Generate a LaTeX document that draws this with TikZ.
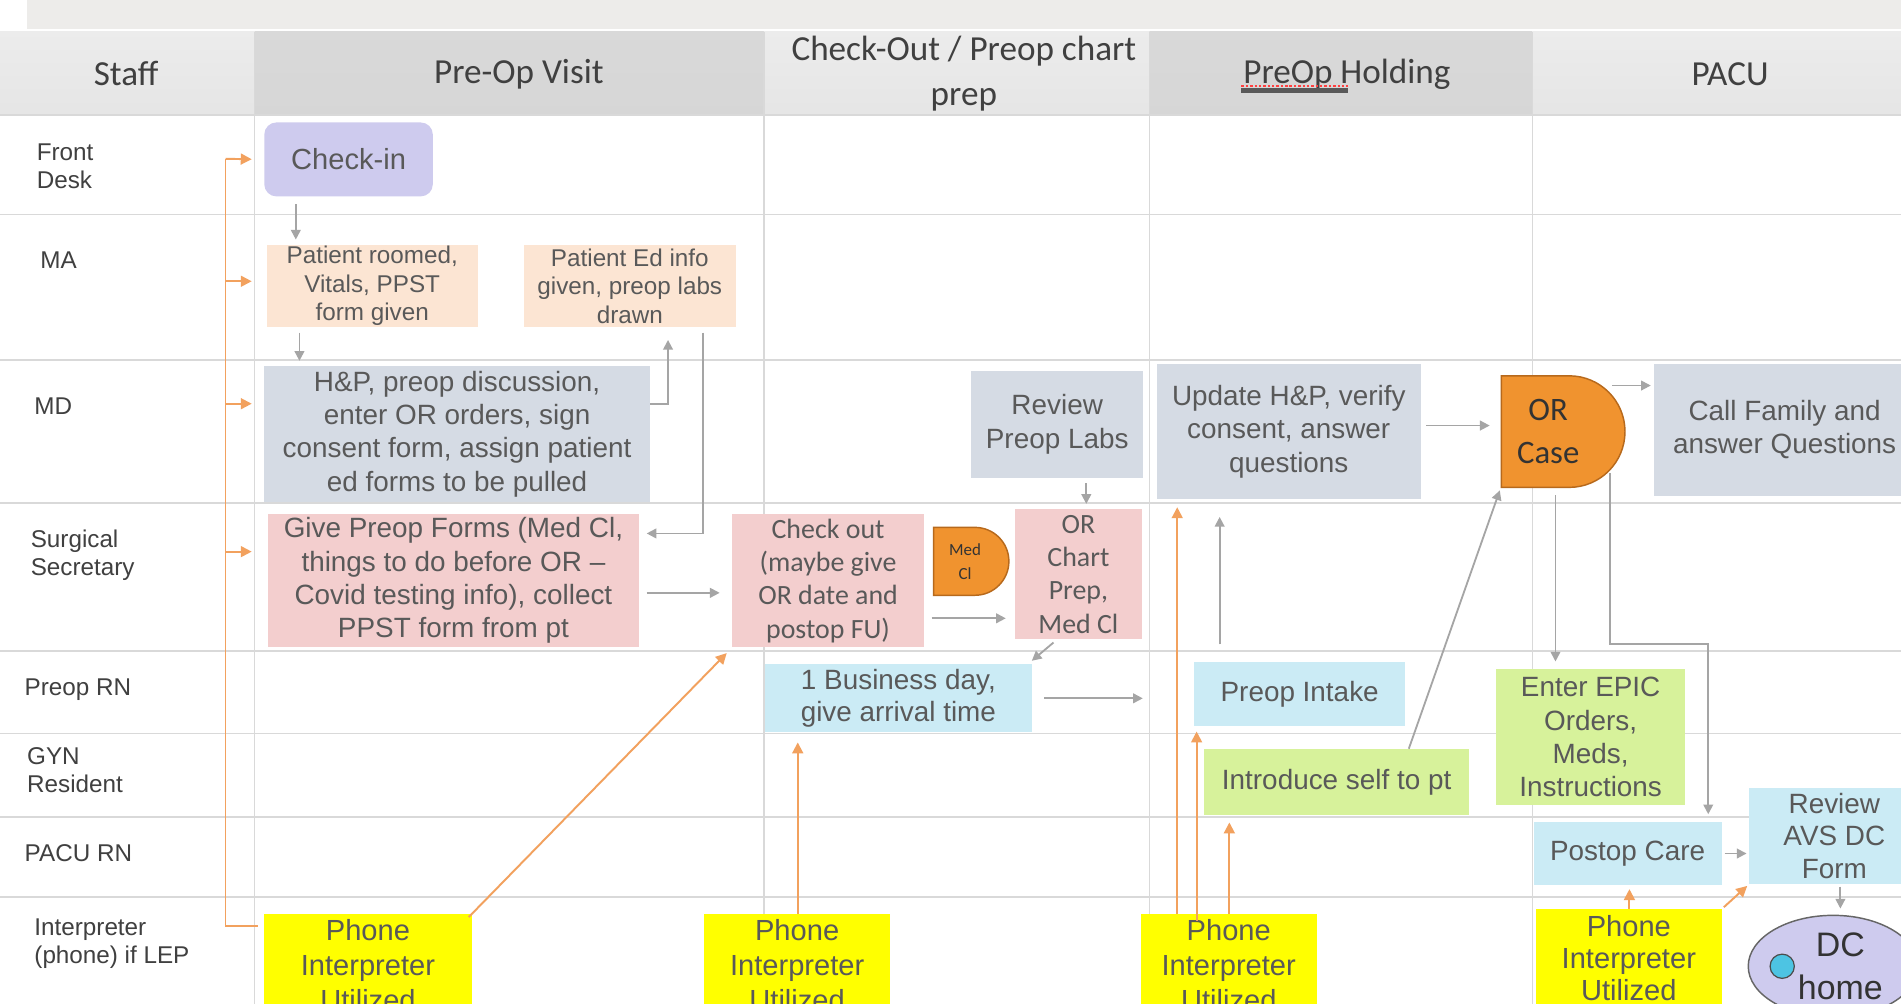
\documentclass[tikz,border=0pt]{standalone}
\usepackage{fontspec}
\setmainfont{Liberation Sans}
\newfontfamily\calfont{Carlito}
\usetikzlibrary{arrows.meta,shapes.misc,shapes.geometric}

\definecolor{bandc}{HTML}{EDECEA}
\definecolor{gridc}{HTML}{D9D9D9}
\definecolor{hdrtxt}{HTML}{404040}
\definecolor{lbltxt}{HTML}{404040}
\definecolor{boxtxt}{HTML}{595959}
\definecolor{lavc}{HTML}{CECBEE}
\definecolor{peachc}{HTML}{FCE5D3}
\definecolor{slatec}{HTML}{D5DBE4}
\definecolor{pinkc}{HTML}{F3CECE}
\definecolor{skyc}{HTML}{CBEBF5}
\definecolor{limec}{HTML}{D7F29B}
\definecolor{yelc}{HTML}{FFFF00}
\definecolor{orfill}{HTML}{F0932F}
\definecolor{ordraw}{HTML}{B7691C}
\definecolor{olinec}{HTML}{F2A15E}
\definecolor{glinec}{HTML}{A5A5A5}
\definecolor{dotc}{HTML}{4DC4E3}

% box from corner (x1,y1) to (x2,y2): style, name, x1, y1, x2, y2, text
\newcommand\mybox[7]{\node[#1, minimum width={(#5-#3)*0.5pt}, minimum height={(#6-#4)*0.5pt}] (#2) at ({(#3+#5)/2},{(#4+#6)/2}) {#7};}

\begin{document}
\begin{tikzpicture}[x=0.5pt,y=-0.5pt,
  box/.style={rectangle, inner sep=0pt, align=center, text=boxtxt},
  body/.style={font=\fontsize{11.5}{13.75}\selectfont},
  smallbody/.style={font=\fontsize{10}{11.75}\selectfont},
  calbody/.style={font=\calfont\fontsize{11.5}{13.75}\selectfont},
  phone/.style={box, fill=yelc, font=\fontsize{12}{14.5}\selectfont},
  hdr/.style={font=\calfont\fontsize{14.5}{18.5}\selectfont, text=hdrtxt, align=center, inner sep=0pt},
  lbl/.style={font=\fontsize{10}{11.5}\selectfont, text=lbltxt, align=left, anchor=west, inner sep=0pt},
  dshape/.style={rounded rectangle, rounded rectangle left arc=none, fill=orfill, draw=ordraw, line width=0.6pt, inner sep=0pt, align=center, text=black!80},
  grid/.style={draw=gridc, line width=0.6pt},
  garrow/.style={draw=glinec, line width=0.75pt, -{Triangle[length=4pt,width=4pt]}},
  gline/.style={draw=glinec, line width=0.75pt},
  oarrow/.style={draw=olinec, line width=0.8pt, -{Triangle[length=4.5pt,width=4.5pt]}},
  oline/.style={draw=olinec, line width=0.8pt},
  lighthead/.style={top color=gray!15, middle color=gray!4, bottom color=gray!20},
  darkhead/.style={top color=gray!30, middle color=gray!6, bottom color=gray!32},
]
\useasboundingbox (0,0) rectangle (1568,828);
\clip (0,0) rectangle (1568,828);
\fill[white] (0,0) rectangle (1568,828);

% top band
\fill[bandc] (22,0) rectangle (1568,24);

% header cells
\shade[lighthead] (0,26) rectangle (210,95);
\shade[darkhead] (210,26) rectangle (630,95);
\shade[lighthead] (630,26) rectangle (948,95);
\shade[darkhead] (948,26) rectangle (1264,95);
\shade[lighthead] (1264,26) rectangle (1568,95);
\foreach \x in {210,630,948,1264} \draw[grid] (\x,26) -- (\x,95);

\node[hdr] (hstaff) at (104,61) {Staff};
\node[hdr] (hpre) at (428,61) {Pre-Op Visit};
\node[hdr] (hcheck) at (795,61) {Check-Out / Preop chart\\prep};
\node[hdr] (hhold) at (1111,61) {PreOp Holding};
\node[hdr] (hpacu) at (1427,61) {PACU};
\draw[red!75, line width=0.5pt, dash pattern=on 1pt off 0.8pt] (1024,71) -- (1112,71);
\draw[gray!70!black, line width=2pt] (1024,75) -- (1112,75);

% swimlane grid
\foreach \y in {95,177,297,415,537,605,674,740} \draw[grid] (0,\y) -- (1568,\y);
\foreach \x in {210,630,948,1264} \draw[grid] (\x,95) -- (\x,828);

% staff labels
\node[lbl] (lfront) at (30,137) {Front\\Desk};
\node[lbl] (lma) at (33,215) {MA};
\node[lbl] (lmd) at (28,335) {MD};
\node[lbl] (lsec) at (25,458) {Surgical\\Secretary};
\node[lbl] (lprn) at (20,569) {Preop RN};
\node[lbl] (lgyn) at (22,635) {GYN\\Resident};
\node[lbl] (lpacu) at (20,704) {PACU RN};
\node[lbl] (lint) at (28,778) {Interpreter\\(phone) if LEP};

% process boxes
\mybox{box, fill=lavc, rounded corners=5pt, font=\fontsize{12}{14}\selectfont}{chk}{218}{101}{357}{162}{Check-in}
\mybox{box, smallbody, fill=peachc}{pr}{220}{202}{394}{270}{Patient roomed,\\Vitals, PPST\\form given}
\mybox{box, smallbody, fill=peachc}{ed}{432}{202}{607}{270}{Patient Ed info\\given, preop labs\\drawn}
\mybox{box, body, fill=slatec}{hp}{218}{302}{536}{414}{H\&P, preop discussion,\\enter OR orders, sign\\consent form, assign patient\\ed forms to be pulled}
\mybox{box, body, fill=pinkc}{gp}{221}{424}{527}{534}{Give Preop Forms (Med Cl,\\things to do before OR --\\Covid testing info), collect\\PPST form from pt}
\mybox{box, calbody, fill=pinkc}{co}{604}{424}{762}{534}{Check out\\(maybe give\\OR date and\\postop FU)}
\mybox{box, calbody, fill=pinkc}{orprep}{837}{420}{942}{527}{OR\\Chart\\Prep,\\Med Cl}
\mybox{box, body, fill=slatec}{rpl}{801}{306}{943}{394}{Review\\Preop Labs}
\mybox{box, body, fill=slatec}{up}{954}{300}{1172}{412}{Update H\&P, verify\\consent, answer\\questions}
\mybox{box, body, fill=slatec}{cf}{1364}{300}{1580}{409}{Call Family and\\answer Questions}
\mybox{box, font=\fontsize{11.5}{13.5}\selectfont, fill=skyc}{bd}{631}{548}{851}{604}{1 Business day,\\give arrival time}
\mybox{box, body, fill=skyc}{pi}{985}{546}{1159}{599}{Preop Intake}
\mybox{box, body, fill=limec}{is}{993}{618}{1212}{672}{Introduce self to pt}
\mybox{box, body, fill=limec}{ep}{1234}{552}{1390}{664}{Enter EPIC\\Orders,\\Meds,\\Instructions}
\mybox{box, body, fill=skyc}{pc}{1265}{678}{1420}{730}{Postop Care}
\mybox{box, font=\fontsize{11.5}{13.25}\selectfont, fill=skyc}{avs}{1443}{650}{1583}{729}{Review\\AVS DC\\Form}

% delay shapes
\mybox{dshape, font=\calfont\fontsize{7}{10}\selectfont}{mc}{768}{435}{830}{491}{Med\hspace*{3pt}\\Cl\hspace*{3pt}}
\mybox{dshape, font=\calfont\fontsize{13.5}{18}\selectfont}{ocase}{1234}{310}{1336}{402}{OR\hspace*{8pt}\\Case\hspace*{8pt}}

% interpreter boxes
\mybox{phone}{phA}{218}{754}{389}{838}{Phone\\Interpreter\\Utilized}
\mybox{phone}{phB}{581}{754}{734}{838}{Phone\\Interpreter\\Utilized}
\mybox{phone}{phC}{941}{754}{1086}{838}{Phone\\Interpreter\\Utilized}
\mybox{phone, font=\fontsize{12}{13.25}\selectfont}{phD}{1267}{750}{1420}{830}{Phone\\Interpreter\\Utilized}

% discharge terminal
\node[ellipse, fill=lavc, draw=gray!80!black, line width=0.6pt, minimum width=70pt, minimum height=42pt, inner sep=0pt, align=center, text=black!80, font=\fontsize{14}{17.5}\selectfont] (dc) at (1512,797) {\hspace*{6pt}DC\\\hspace*{6pt}home};
\node[circle, fill=dotc, draw=gray!60!black, line width=0.5pt, minimum size=10pt, inner sep=0pt] (dcdot) at (1470,797) {};

% grey flow connectors
\draw[garrow, shorten <=3pt, shorten >=2pt] (244,0 |- chk.south) -- (244,0 |- pr.north);
\draw[garrow, shorten <=2pt, shorten >=2pt] (247,0 |- pr.south) -- (247,0 |- hp.north);
\draw[garrow, shorten >=5pt] (hp.east |- 0,333) -- (551,333) -- (551,0 |- ed.south);
\draw[garrow, shorten <=2pt, shorten >=3pt] (580,0 |- ed.south) -- (580,440) -- (gp.east |- 0,440);
\draw[garrow, shorten <=3pt, shorten >=5pt] (gp.east |- 0,489) -- (co.west |- 0,489);
\draw[garrow, shorten <=3pt, shorten >=3.5pt] (co.east |- 0,510) -- (orprep.west |- 0,510);
\draw[garrow, shorten <=2pt, shorten >=2pt] (896,0 |- rpl.south) -- (896,0 |- orprep.north);
\draw[garrow, shorten <=2pt, shorten >=2pt] (872,0 |- orprep.south) -- (848,0 |- bd.north);
\draw[garrow, shorten <=5pt, shorten >=21pt] (bd.east) -- (pi.west |- bd.east);
\draw[garrow, shorten <=7pt, shorten >=7pt] (1006,0 |- pi.north) -- (1006,0 |- up.south);
\draw[garrow, shorten >=1pt] (1162,0 |- is.north) -- (ocase.south west);
\draw[garrow, shorten <=2pt, shorten >=4.5pt] (up.east |- 0,351) -- (ocase.west |- 0,351);
\draw[garrow, shorten >=1pt] (1330,318) -- (cf.west |- 0,318);
\draw[garrow, shorten <=3pt, shorten >=3pt] (1283,0 |- ocase.south) -- (1283,0 |- ep.north);
\draw[garrow, shorten >=3pt] (1328,390) -- (1328,531) -- (1409,531) -- (1409,0 |- pc.north);
\draw[garrow, shorten <=1pt, shorten >=1pt] (pc.east) -- (avs.west |- pc.east);
\draw[garrow, shorten <=1pt, shorten >=2.5pt] (1518,0 |- avs.south) -- (1518,0 |- dc.north);

% interpreter connectors
\draw[oline, shorten <=2.5pt] (phA.west |- 0,764) -- (186,764) -- (186,131);
\draw[oarrow, shorten >=5pt] (186,131) -- (chk.west);
\draw[oarrow, shorten >=6pt] (186,232) -- (pr.west |- 0,232);
\draw[oarrow, shorten >=5pt] (186,333) -- (hp.west |- 0,333);
\draw[oarrow, shorten >=6.5pt] (186,455) -- (gp.west |- 0,455);
\draw[oarrow, shorten <=-2pt, shorten >=3pt] (phA.north east) -- (co.south west);
\draw[oarrow, shorten >=4pt] (658,0 |- phB.north) -- (658,0 |- bd.south);
\draw[oarrow, shorten >=3pt] (971,0 |- phC.north) -- (971,0 |- up.south);
\draw[oarrow, shorten <=-3pt, shorten >=2pt] (987,0 |- phC.north) -- (987,0 |- pi.south);
\draw[oarrow, shorten >=3pt] (1014,0 |- phC.north) -- (1014,0 |- is.south);
\draw[oarrow, shorten >=1.5pt] (1344,0 |- phD.north) -- (1344,0 |- pc.south);
\draw[oarrow, shorten <=1pt, shorten >=1pt] (phD.north east) -- (avs.south west);
\end{tikzpicture}
\end{document}
